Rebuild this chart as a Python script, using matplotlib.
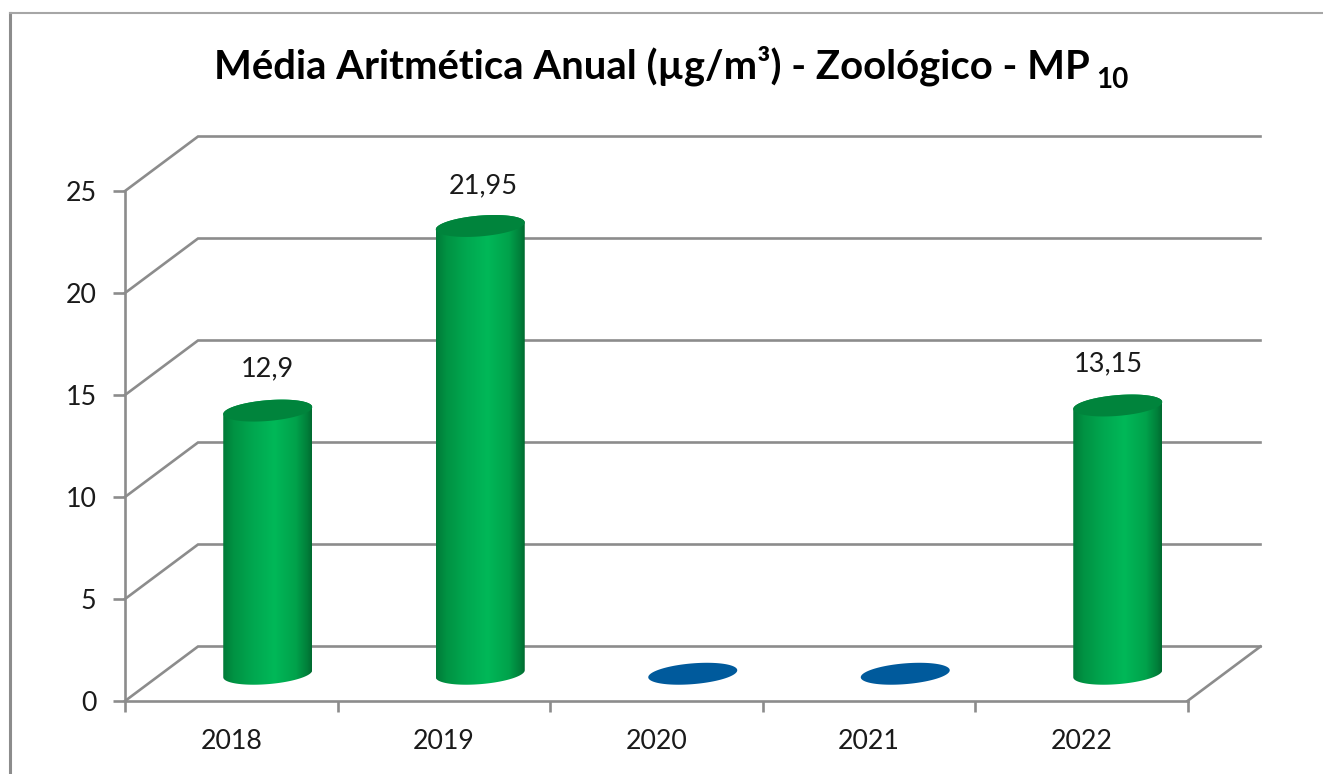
import numpy as np
import matplotlib
matplotlib.use('Agg')
import matplotlib.pyplot as plt
from matplotlib.colors import LinearSegmentedColormap
from matplotlib.lines import Line2D
from matplotlib.patches import PathPatch, Polygon
from matplotlib.path import Path

anos = ['2018', '2019', '2020', '2021', '2022']
valores = [12.9, 21.95, 0, 0, 13.15]
rotulos = ['12,9', '21,95', '', '', '13,15']
y_ticks = [0, 5, 10, 15, 20, 25]

plt.rcParams['font.family'] = ['Lato', 'DejaVu Sans']

W, H = 1323, 774
CINZA = '#8c8c8c'

fig = plt.figure(figsize=(W / 100, H / 100), dpi=100, facecolor='white')

# moldura do grafico (so topo e esquerda aparecem no recorte)
fig.add_artist(Line2D([9.5 / W, 9.5 / W], [0, 1 - 13 / H], color=CINZA, lw=2.2))
fig.add_artist(Line2D([9.5 / W, 1], [1 - 13 / H, 1 - 13 / H], color='#a6a6a6', lw=1.5))

# eixo frontal: x de 125 a 1187.5 px, y de 701 (0) a 191 (25) px
ax = fig.add_axes([125 / W, (H - 701) / H, 1062.5 / W, 510 / H])
ax.set_xlim(0, 5)
ax.set_ylim(0, 25)
ax.patch.set_alpha(0)

px_x = 5 / 1062.5
px_y = 25 / 510
dx = 73 * px_x   # profundidade do efeito 3D
dy = 54.5 * px_y

# paredes e grade
for v in y_ticks:
    ax.plot([0, dx, 5 + dx], [v, v + dy, v + dy], color=CINZA, lw=1.9,
            clip_on=False, zorder=1, solid_joinstyle='miter')
ax.plot([5, 5 + dx], [0, dy], color=CINZA, lw=1.9, clip_on=False, zorder=1)

for s in ['top', 'right']:
    ax.spines[s].set_visible(False)
for s in ['left', 'bottom']:
    ax.spines[s].set_color(CINZA)
    ax.spines[s].set_linewidth(1.9)

ax.set_yticks(y_ticks)
ax.set_xticks(range(6))
ax.set_xticklabels([])
ax.set_xticks(np.arange(5) + 0.5, labels=anos, minor=True)
ax.tick_params(axis='y', length=9, width=1.9, color=CINZA, labelsize=19.3, pad=11.5, labelcolor='#1a1a1a')
ax.tick_params(axis='x', which='major', length=8, width=1.9, color=CINZA)
ax.tick_params(axis='x', which='minor', length=0, labelsize=19.3, pad=20, labelcolor='#1a1a1a')

# cilindros
gradiente = LinearSegmentedColormap.from_list('cil', [
    (0.0, '#007a38'), (0.12, '#009343'), (0.35, '#00a850'), (0.58, '#00b858'),
    (0.82, '#00a24b'), (0.95, '#007f3a'), (1.0, '#006a30')])
a = 44.5 * px_x
h_el = 10.4 * px_y
s_el = 3.5 * px_y
fundo = dy / 2

# deslocamento dos rotulos em px (o Excel nao centraliza igual em todas as barras)
rot_dx = [0, 3, 0, 0, -9]
rot_dy = [42, 40, 0, 0, 42]


def elipse(cx, cy, t):
    return cx + a * np.cos(t), cy + h_el * np.sin(t) + s_el * np.cos(t)


for i, v in enumerate(valores):
    cx = i + 0.5 + dx / 2
    topo = v + fundo
    t_all = np.linspace(0, 2 * np.pi, 120)
    if v == 0:
        ex, ey = elipse(cx, fundo, t_all)
        ax.add_patch(Polygon(np.c_[ex, ey], closed=True, fc='#005a9c', ec='none',
                             clip_on=False, zorder=3))
        continue
    bx, by = elipse(cx, fundo, np.linspace(np.pi, 2 * np.pi, 60))
    tx, ty = elipse(cx, topo, np.linspace(0, np.pi, 60))
    verts = np.r_[np.c_[bx, by], np.c_[tx, ty], [[bx[0], by[0]]]]
    patch = PathPatch(Path(verts), fc='none', ec='none', transform=ax.transData)
    ax.add_patch(patch)
    img = ax.imshow(np.linspace(0, 1, 256).reshape(1, -1), cmap=gradiente, aspect='auto',
                    extent=(cx - a, cx + a, fundo - 1, topo + 1), zorder=3, clip_on=True)
    img.set_clip_path(patch)
    ex, ey = elipse(cx, topo, t_all)
    ax.add_patch(Polygon(np.c_[ex, ey], closed=True, fc='#00843c', ec='none',
                         clip_on=False, zorder=4))
    ax.text(cx + rot_dx[i] * px_x, topo + rot_dy[i] * px_y, rotulos[i], ha='center',
            va='center', fontsize=19.5, color='#1a1a1a', clip_on=False, zorder=5)

ax.set_xlim(0, 5)
ax.set_ylim(0, 25)

# titulo com subscrito separado
fig.text(214 / W, 1 - 78 / H, 'Média Aritmética Anual (µg/m³) - Zoológico - MP',
         fontsize=28.8, fontweight='bold', color='black', ha='left', va='baseline')
fig.text(1096 / W, 1 - 88 / H, '10', fontsize=20, fontweight='bold', color='black',
         ha='left', va='baseline')

fig.savefig('out.png', dpi=100, facecolor='white')
